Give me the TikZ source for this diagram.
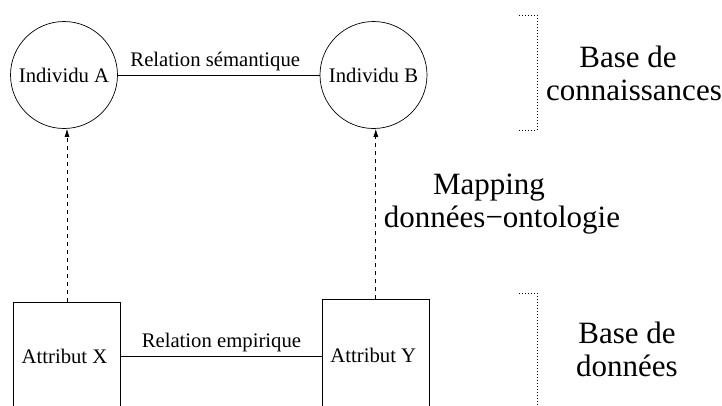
\documentclass[tikz,border=0pt]{standalone}
\usepackage{fontspec}
\setmainfont{Liberation Serif}
\usetikzlibrary{arrows.meta}
\tikzset{
  circ/.style={circle, draw, line width=0.7pt, inner sep=0pt, minimum size=107pt, font=\fontsize{20.7}{24}\selectfont},
  rectbox/.style={rectangle, draw, line width=0.7pt, inner sep=0pt, minimum width=107.5pt, font=\fontsize{20.7}{24}\selectfont},
  rel/.style={line width=0.7pt},
  rellabel/.style={font=\fontsize{20.7}{24}\selectfont},
  mapping/.style={line width=0.7pt, dash pattern=on 4pt off 4pt, -{Latex[length=8pt,width=5pt]}},
  brk/.style={line width=0.6pt, dash pattern=on 1pt off 2pt},
  bigtext/.style={align=center, font=\fontsize{31}{33}\selectfont, inner sep=0pt},
}
\begin{document}
\begin{tikzpicture}[x=1pt, y=-1pt]
\useasboundingbox (0,0) rectangle (722,405);
\clip (0,0) rectangle (722,405);
\node[circ] (A) at (64,75) {Individu A};
\node[circ] (B) at (373.5,75) {Individu B};
\node[rectbox, minimum height=108pt] (X) at (67,356) {Attribut X\kern5pt};
\node[rectbox, minimum height=112pt] (Y) at (375.8,355) {Attribut Y\kern5pt};
\draw[rel] (A) -- node[rellabel, above, xshift=-3.5pt] {Relation sémantique} (B);
\draw[rel] (X.east) -- node[rellabel, above] {Relation empirique} (X.east -| Y.west);
\draw[mapping] (X.north) -- (X.north |- A.south);
\draw[mapping] (Y.north) -- (Y.north |- B.south);
\draw[brk] (519,15) -- (537,15) -- (537,130) -- (519,130);
\draw[brk] (519,293) -- (537,293) -- (537,410);
\node[bigtext, anchor=base] (KB) at (634,100.5) {Base de\kern12pt\\connaissances};
\node[bigtext, anchor=base] (MAP) at (502,227) {Mapping\kern26pt\\données−ontologie};
\node[bigtext, anchor=base] (DB) at (627,376) {Base de\\données};
\end{tikzpicture}
\end{document}
